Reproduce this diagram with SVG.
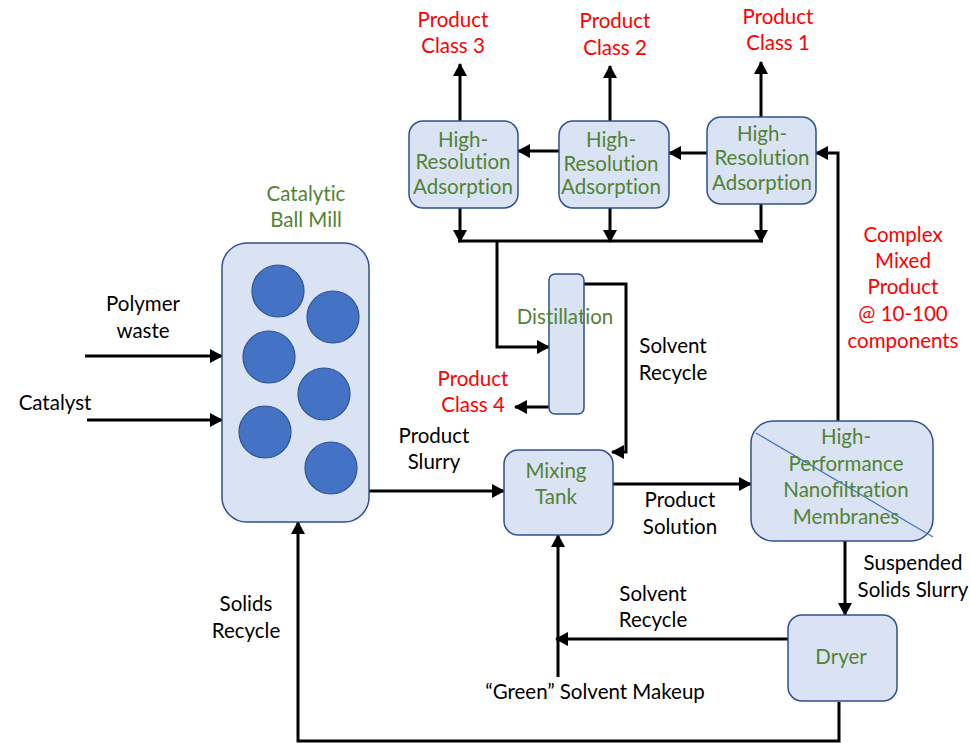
<svg xmlns="http://www.w3.org/2000/svg" width="970" height="743" viewBox="0 0 970 743">
  <style>
    .box { fill: #dae3f3; stroke: #2f528f; stroke-width: 1.5; }
    .ball { fill: #4472c4; stroke: #2f528f; stroke-width: 1.2; }
    .flow { fill: none; stroke: #000; stroke-width: 3; }
    .t { font-family: Lato, "Liberation Sans", sans-serif; font-size: 20.5px; text-anchor: middle; font-variant-ligatures: none; font-feature-settings: "liga" 0, "dlig" 0; }
    .g { fill: #548235; }
    .r { fill: #ff0000; }
    .k { fill: #000; }
  </style>
  <defs>
    <marker id="ah" markerUnits="userSpaceOnUse" markerWidth="14" markerHeight="14" viewBox="0 0 14 14" refX="12" refY="7" orient="auto">
      <path d="M0,0 L13,7 L0,14 Z" fill="#000"/>
    </marker>
  </defs>
  <rect width="970" height="743" fill="#fff"/>

  <!-- connectors -->
  <g id="connectors">
    <line class="flow" x1="85" y1="356" x2="222" y2="356" marker-end="url(#ah)"/>
    <line class="flow" x1="87" y1="420" x2="222" y2="420" marker-end="url(#ah)"/>
    <line class="flow" x1="369" y1="491" x2="504" y2="491" marker-end="url(#ah)"/>
    <line class="flow" x1="613" y1="484" x2="751" y2="484" marker-end="url(#ah)"/>
    <path class="flow" d="M838,421 V153 H816" marker-end="url(#ah)"/>
    <line class="flow" x1="707" y1="153" x2="669" y2="153" marker-end="url(#ah)"/>
    <line class="flow" x1="559" y1="151" x2="518" y2="151" marker-end="url(#ah)"/>
    <line class="flow" x1="460" y1="121" x2="460" y2="64" marker-end="url(#ah)"/>
    <line class="flow" x1="610" y1="121" x2="610" y2="66" marker-end="url(#ah)"/>
    <line class="flow" x1="761" y1="117" x2="761" y2="62" marker-end="url(#ah)"/>
    <line class="flow" x1="460" y1="208" x2="460" y2="242" marker-end="url(#ah)"/>
    <line class="flow" x1="610" y1="208" x2="610" y2="242" marker-end="url(#ah)"/>
    <line class="flow" x1="761" y1="204" x2="761" y2="242" marker-end="url(#ah)"/>
    <line class="flow" x1="458" y1="241" x2="763" y2="241"/>
    <path class="flow" d="M497,241 V347 H549" marker-end="url(#ah)"/>
    <path class="flow" d="M584,284 H626 V452 H612" marker-end="url(#ah)"/>
    <line class="flow" x1="549" y1="407" x2="515" y2="407" marker-end="url(#ah)"/>
    <line class="flow" x1="845" y1="541" x2="845" y2="615" marker-end="url(#ah)"/>
    <line class="flow" x1="788" y1="639" x2="556" y2="639" marker-end="url(#ah)"/>
    <line class="flow" x1="558" y1="677" x2="558" y2="535" marker-end="url(#ah)"/>
    <path class="flow" d="M839,702 V741 H298 V522" marker-end="url(#ah)"/>
  </g>

  <!-- catalytic ball mill -->
  <g id="ball-mill">
    <rect class="box" x="222" y="243" width="147" height="279" rx="25"/>
    <circle class="ball" cx="278" cy="291" r="26"/>
    <circle class="ball" cx="333" cy="317" r="26"/>
    <circle class="ball" cx="269" cy="357" r="26"/>
    <circle class="ball" cx="324" cy="394" r="26"/>
    <circle class="ball" cx="265" cy="432" r="26"/>
    <circle class="ball" cx="331" cy="468" r="26"/>
    <text class="t g" x="306" y="201">Catalytic</text>
    <text class="t g" x="306" y="227">Ball Mill</text>
  </g>

  <!-- high-resolution adsorption stages -->
  <g id="hra-3">
    <rect class="box" x="409" y="121" width="109" height="87" rx="14"/>
    <text class="t g" x="463" y="147">High-</text>
    <text class="t g" x="463" y="169">Resolution</text>
    <text class="t g" x="463" y="194">Adsorption</text>
  </g>
  <g id="hra-2">
    <rect class="box" x="559" y="121" width="110" height="87" rx="14"/>
    <text class="t g" x="611" y="147">High-</text>
    <text class="t g" x="611" y="171">Resolution</text>
    <text class="t g" x="611" y="194">Adsorption</text>
  </g>
  <g id="hra-1">
    <rect class="box" x="707" y="117" width="109" height="87" rx="14"/>
    <text class="t g" x="762" y="141">High-</text>
    <text class="t g" x="762" y="165">Resolution</text>
    <text class="t g" x="762" y="190">Adsorption</text>
  </g>

  <!-- distillation column -->
  <g id="distillation">
    <rect class="box" x="549" y="274" width="35" height="140" rx="6"/>
    <text class="t g" x="565" y="324">Distillation</text>
  </g>

  <!-- mixing tank -->
  <g id="mixing-tank">
    <rect class="box" x="504" y="450" width="109" height="85" rx="14"/>
    <text class="t g" x="556" y="478">Mixing</text>
    <text class="t g" x="556" y="504">Tank</text>
  </g>

  <!-- nanofiltration membranes -->
  <g id="nanofiltration">
    <rect class="box" x="751" y="421" width="182" height="120" rx="22"/>
    <line x1="756" y1="433" x2="933" y2="537" stroke="#4472c4" stroke-width="1.2"/>
    <text class="t g" x="846" y="444">High-</text>
    <text class="t g" x="846" y="471">Performance</text>
    <text class="t g" x="846" y="497">Nanofiltration</text>
    <text class="t g" x="846" y="524">Membranes</text>
  </g>

  <!-- dryer -->
  <g id="dryer">
    <rect class="box" x="788" y="615" width="109" height="86" rx="14"/>
    <text class="t g" x="841" y="664">Dryer</text>
  </g>

  <!-- stream labels -->
  <g id="labels">
    <text class="t r" x="453" y="27">Product</text>
    <text class="t r" x="453" y="53">Class 3</text>
    <text class="t r" x="615" y="28">Product</text>
    <text class="t r" x="615" y="55">Class 2</text>
    <text class="t r" x="778" y="24">Product</text>
    <text class="t r" x="778" y="50">Class 1</text>
    <text class="t r" x="473" y="386">Product</text>
    <text class="t r" x="473" y="412">Class 4</text>
    <text class="t r" x="903" y="242">Complex</text>
    <text class="t r" x="903" y="268">Mixed</text>
    <text class="t r" x="903" y="294">Product</text>
    <text class="t r" x="903" y="321">@ 10-100</text>
    <text class="t r" x="903" y="348">components</text>
    <text class="t k" x="143" y="311">Polymer</text>
    <text class="t k" x="143" y="338">waste</text>
    <text class="t k" x="55" y="410">Catalyst</text>
    <text class="t k" x="434" y="443">Product</text>
    <text class="t k" x="434" y="469">Slurry</text>
    <text class="t k" x="673" y="353">Solvent</text>
    <text class="t k" x="673" y="380">Recycle</text>
    <text class="t k" x="680" y="507">Product</text>
    <text class="t k" x="680" y="534">Solution</text>
    <text class="t k" x="913" y="570">Suspended</text>
    <text class="t k" x="913" y="597">Solids Slurry</text>
    <text class="t k" x="653" y="601">Solvent</text>
    <text class="t k" x="653" y="627">Recycle</text>
    <text class="t k" x="595" y="699">“Green” Solvent Makeup</text>
    <text class="t k" x="246" y="611">Solids</text>
    <text class="t k" x="246" y="638">Recycle</text>
  </g>
</svg>
